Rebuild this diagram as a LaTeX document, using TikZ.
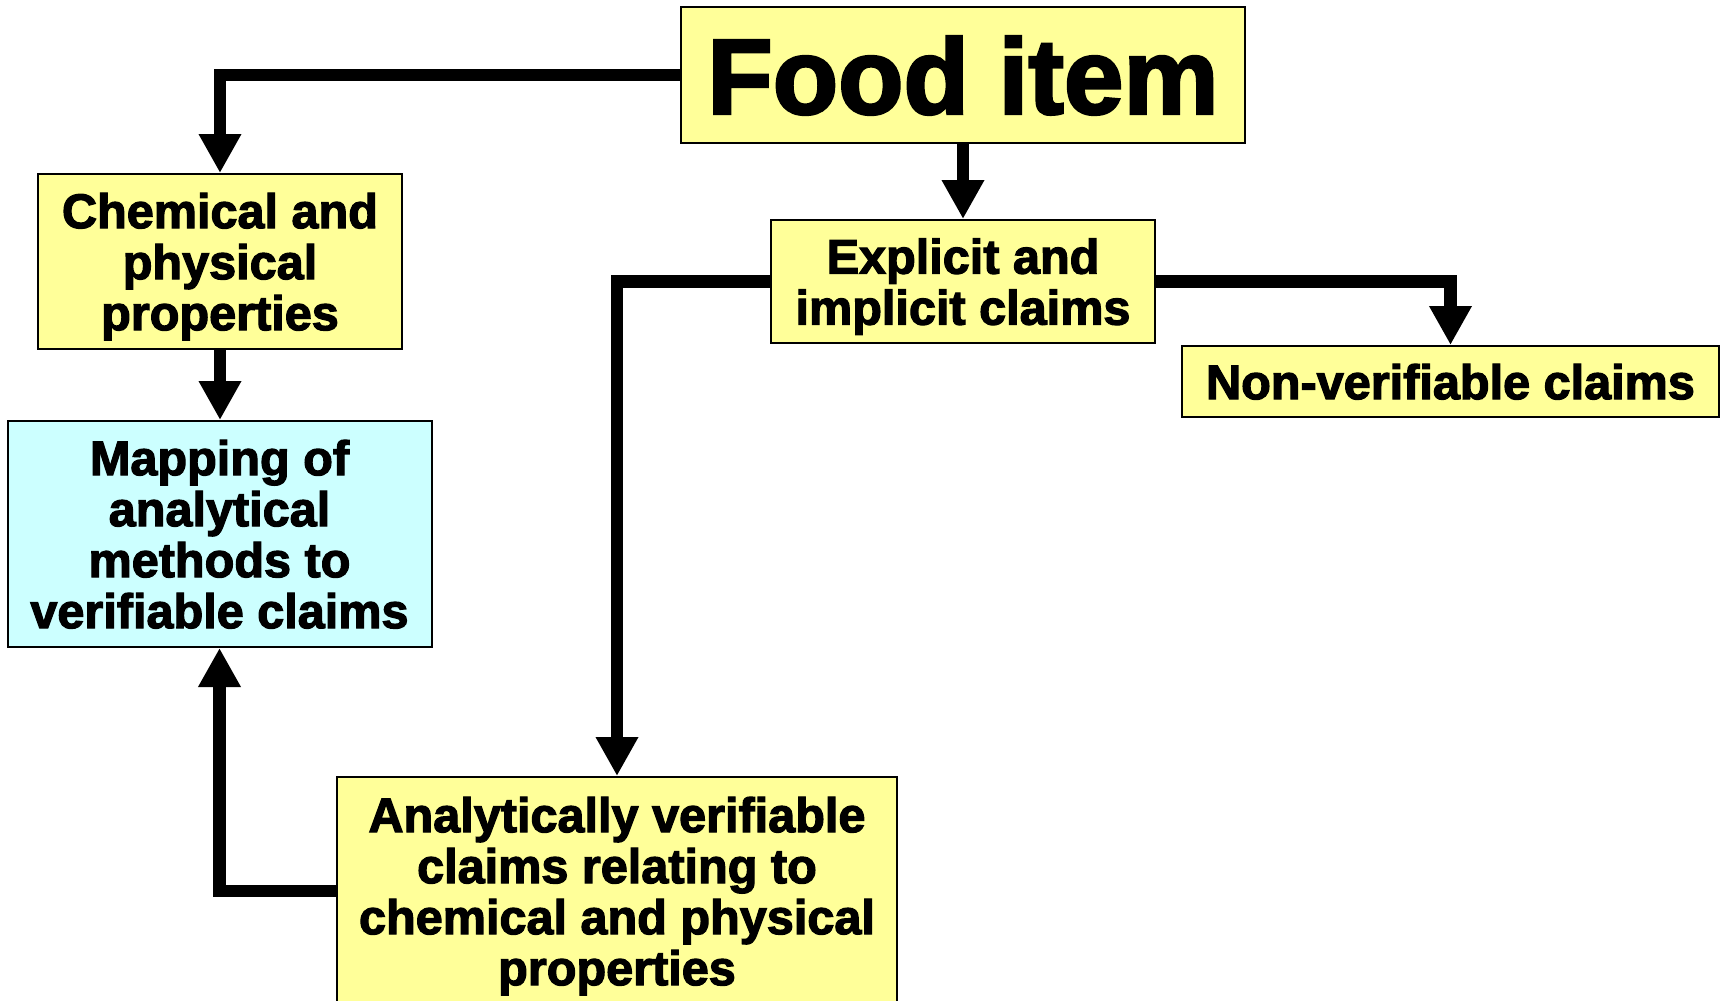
\documentclass[tikz,border=0pt]{standalone}
\usepackage{fontspec}
\setmainfont{Liberation Sans}[BoldFeatures={FakeBold=2.5}]
\usetikzlibrary{arrows.meta}
\definecolor{noteyellow}{HTML}{FFFF99}
\definecolor{notecyan}{HTML}{CCFFFF}

\begin{document}
\begin{tikzpicture}[x=0.5pt, y=-0.5pt,
    box/.style={rectangle, draw, line width=1pt, fill=noteyellow, inner sep=0pt, text depth=0pt, align=center, font=\bfseries\fontsize{24.3}{25.5}\selectfont},
    flow/.style={line width=6.3pt, -{Triangle[length=19.5pt, width=20pt]}}]
    \useasboundingbox (0,0) rectangle (1720,1001);

    \node at (963,75) [box, minimum width=282pt, minimum height=68pt, font=\bfseries\fontsize{53.5}{60}\selectfont] (Food) {Food item};
    \node at (220,261.5) [box, minimum width=182pt, minimum height=87.5pt] (Chem) {Chemical and\\physical\\properties};
    \node at (219.5,534) [box, fill=notecyan, minimum width=212pt, minimum height=113pt] (Mapping) {Mapping of\\analytical\\methods to\\verifiable claims};
    \node at (963,281.5) [box, minimum width=192pt, minimum height=61.5pt] (Claims) {Explicit and\\implicit claims};
    \node at (1450.5,381.5) [box, minimum width=268.5pt, minimum height=35.5pt] (NonVerif) {Non-verifiable claims};
    \node at (617,891) [box, minimum width=280pt, minimum height=114pt] (Verif) {Analytically verifiable\\claims relating to\\chemical and physical\\properties};

    \draw[flow] (Food.west) -| (Chem.north);
    \draw[flow] (Chem.south) -- (Chem.south |- Mapping.north);
    \draw[flow] (Food.south) -- (Claims.north);
    \draw[flow] (Claims.east) -| (NonVerif.north);
    \draw[flow] (Claims.west) -| (Verif.north);
    \draw[flow] (Verif.west) -| (Mapping.south);
\end{tikzpicture}
\end{document}
